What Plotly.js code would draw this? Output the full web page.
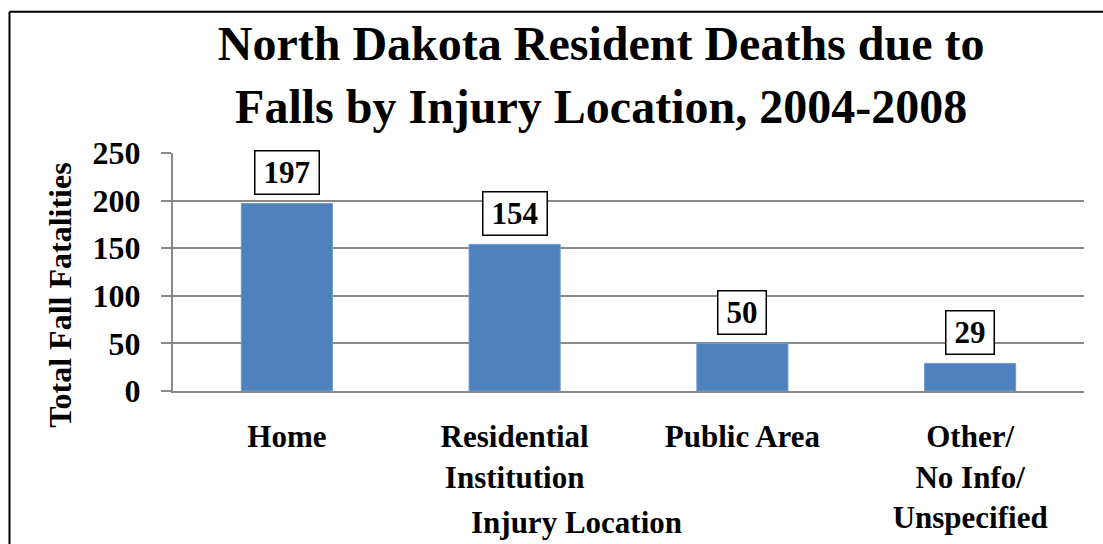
<!DOCTYPE html>
<html>
<head>
<meta charset="utf-8">
<script src="https://cdn.plot.ly/plotly-3.0.1.min.js"></script>
<style>
html,body{margin:0;padding:0;background:#fff;overflow:hidden;}
#chart{width:1103px;height:544px;}
</style>
</head>
<body>
<div id="chart"></div>
<script>
const categories = ["Home", "Residential<br>Institution", "Public Area", "Other/<br>No Info/<br>Unspecified"];
const deaths = [197, 154, 50, 29];
const yTicks = [0, 50, 100, 150, 200, 250];
const chartTitle = "North Dakota Resident Deaths due to<br>Falls by Injury Location, 2004-2008";
const xTitle = "Injury Location";
const yTitle = "Total Fall Fatalities";

const FONT = '"Liberation Serif", "Times New Roman", Times, serif';
const GRID = '#898989';

const labelAnnotations = deaths.map((v, i) => ({
  x: categories[i], y: v, xref: 'x', yref: 'y',
  text: '<b>' + v + '</b>', showarrow: false,
  yanchor: 'bottom', yshift: 8,
  font: {family: FONT, size: 31, color: '#000'},
  bordercolor: '#000', borderwidth: 1.5, borderpad: 3,
  bgcolor: '#fff',
  width: String(v).length * 15.5 + 10, height: 36
}));

const layout = {
  width: 1103, height: 544,
  margin: {l: 173, r: 19, t: 153, b: 153},
  paper_bgcolor: '#fff', plot_bgcolor: '#fff',
  showlegend: false,
  bargap: 0.6,
  font: {family: FONT, color: '#000'},
  title: {
    text: '<b>' + chartTitle + '</b>',
    font: {family: FONT, size: 48, color: '#000'},
    xref: 'container', x: 0.545, xanchor: 'center',
    yref: 'container', y: 0.889, yanchor: 'top'
  },
  xaxis: {
    type: 'category',
    showline: true, linecolor: GRID, linewidth: 2,
    ticks: '', showgrid: false,
    tickfont: {family: FONT, size: 31, color: '#000'},
    ticklabelstandoff: 17,
    tickprefix: '<b>', ticksuffix: '</b>'
  },
  yaxis: {
    range: [0, 250], tickvals: yTicks,
    ticktext: yTicks.map(t => '<b>' + t + '</b>'),
    showline: true, linecolor: GRID, linewidth: 2,
    ticks: 'outside', ticklen: 10, tickwidth: 2, tickcolor: GRID,
    showgrid: true, gridcolor: GRID, gridwidth: 2,
    zeroline: false,
    tickfont: {family: FONT, size: 32, color: '#000'},
    ticklabelstandoff: 14
  },
  annotations: labelAnnotations.concat([
    {
      text: '<b>' + yTitle + '</b>', textangle: -90, showarrow: false,
      xref: 'paper', yref: 'paper', x: -0.124, y: 0.40,
      xanchor: 'center', yanchor: 'middle',
      font: {family: FONT, size: 32, color: '#000'}
    },
    {
      text: '<b>' + xTitle + '</b>', showarrow: false,
      xref: 'paper', yref: 'paper', x: 0.443, y: -0.553,
      xanchor: 'center', yanchor: 'middle',
      font: {family: FONT, size: 31, color: '#000'}
    }
  ]),
  shapes: [
    {type: 'line', xref: 'paper', yref: 'paper', x0: -0.1795, x1: -0.1795, y0: 1.594, y1: -0.7,
     line: {color: '#000', width: 2}},
    {type: 'line', xref: 'paper', yref: 'paper', x0: -0.1795, x1: 1.05, y0: 1.594, y1: 1.594,
     line: {color: '#000', width: 2}}
  ]
};

const data = [{
  type: 'bar', x: categories, y: deaths,
  marker: {color: '#4F81BD', line: {color: '#6f9ad0', width: 1}},
  hoverinfo: 'x+y'
}];

Plotly.newPlot('chart', data, layout, {displayModeBar: false, staticPlot: true});
</script>
</body>
</html>
